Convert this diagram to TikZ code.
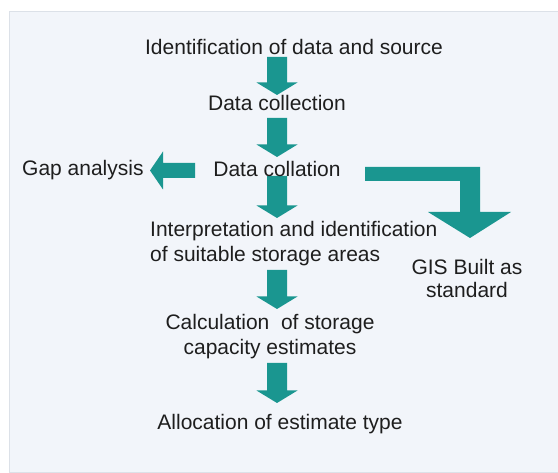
\documentclass[tikz,border=0pt]{standalone}
\usepackage{fontspec}
\setmainfont{Liberation Sans}
\usetikzlibrary{calc}
\definecolor{panel}{HTML}{F2F5FA}
\definecolor{panelline}{HTML}{DCE1E8}
\definecolor{tealblk}{HTML}{1A9690}
\definecolor{ink}{HTML}{1E1E1E}
\newcommand\tealdown[2]{%
  \fill[blk] ($(#1)+(-10,0)$) -- ($(#1)+(10,0)$) -- ($(#2)+(10,-12.5)$) --
    ($(#2)+(20.5,-12.5)$) -- (#2) -- ($(#2)+(-20.5,-12.5)$) --
    ($(#2)+(-10,-12.5)$) -- cycle;}
\begin{document}
\begin{tikzpicture}[x=1pt,y=-1pt,
  lbl/.style={inner sep=0pt, text=ink, font=\fontsize{21}{25}\selectfont},
  blk/.style={fill=tealblk, draw=none}]
\useasboundingbox (0,0) rectangle (558,473);
\fill[white] (0,0) rectangle (558,473);
\draw[fill=panel, draw=panelline] (9,11) rectangle (560,472);

% arrow end points
\coordinate (a1s) at (277,57);  \coordinate (a1t) at (277,95);
\coordinate (a2s) at (277,118); \coordinate (a2t) at (277,157);
\coordinate (a3s) at (277,176); \coordinate (a3t) at (277,218);
\coordinate (a4s) at (277,270); \coordinate (a4t) at (277,309);
\coordinate (a5s) at (277,363); \coordinate (a5t) at (277,403);
\coordinate (g1) at (195,170.5); \coordinate (gt) at (150,170.5);
\coordinate (b1) at (365,174);  \coordinate (bt) at (470,238);

% block arrows
\tealdown{a1s}{a1t}
\tealdown{a2s}{a2t}
\tealdown{a3s}{a3t}
\tealdown{a4s}{a4t}
\tealdown{a5s}{a5t}
\fill[blk] ($(g1)+(0,-7.5)$) -- ($(g1)+(0,7.5)$) -- ($(gt)+(13,7.5)$) --
  ($(gt)+(13,19)$) -- (gt) -- ($(gt)+(13,-19)$) -- ($(gt)+(13,-7.5)$) -- cycle;
\fill[blk] ($(b1)+(0,-7)$) -- ($(bt)+(10,-71)$) -- ($(bt)+(10,-26)$) --
  ($(bt)+(41,-26)$) -- (bt) -- ($(bt)+(-42,-26)$) -- ($(bt)+(-10,-26)$) --
  ($(bt)+(-10,-57)$) -- ($(b1)+(0,7)$) -- cycle;

% texts (multi-line nodes: base = last line's baseline)
\node[lbl, anchor=base] (src) at (294,55) {Identification of data and source};
\node[lbl, anchor=base] (coll) at (277,111) {Data collection};
\node[lbl, anchor=base] (cola) at (277,177) {Data collation};
\node[lbl, anchor=base west] (gap) at (22,176) {Gap analysis};
\node[lbl, anchor=base west, align=left] (interp) at (150,262)
  {Interpretation and identification\\of suitable storage areas};
\node[lbl, anchor=base, align=center, font=\fontsize{21}{23.5}\selectfont] (gis) at (467,298)
  {GIS Built as\\standard};
\node[lbl, anchor=base, align=center] (capest) at (270,355)
  {Calculation\ \ of storage\\capacity estimates};
\node[lbl, anchor=base] (alloc) at (280,430) {Allocation of estimate type};
\end{tikzpicture}
\end{document}
